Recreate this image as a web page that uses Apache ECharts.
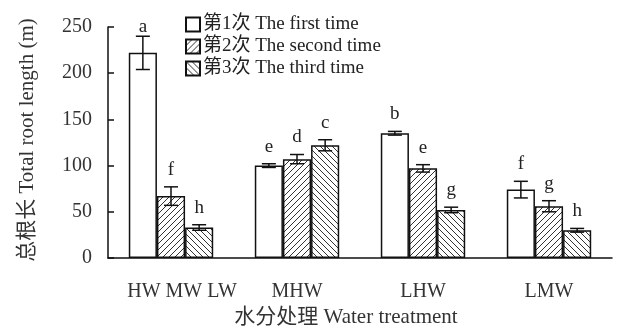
<!DOCTYPE html>
<html><head><meta charset="utf-8">
<script src="https://cdn.jsdelivr.net/npm/echarts@6/dist/echarts.min.js"></script>
<style>html,body{margin:0;padding:0;background:#fff}#c{width:619px;height:327px}</style>
</head><body><div id="c"></div>
<script>
const categories = ['HW MW LW', 'MHW', 'LHW', 'LMW'];
const seriesNames = ['第1次 The first time', '第2次 The second time', '第3次 The third time'];
const first = [222, 100, 135, 74];
const second = [67, 107, 97, 56];
const third = [33, 122, 52, 30];
const err1 = [18, 2, 2, 9];
const err2 = [10, 5, 4, 6];
const err3 = [3, 6, 3, 2];
const letters1 = ['a', 'e', 'b', 'f'];
const letters2 = ['f', 'd', 'e', 'g'];
const letters3 = ['h', 'c', 'g', 'h'];
const yTicks = [0, 50, 100, 150, 200, 250];

const FONT = '"Liberation Serif", "Times New Roman", "Noto Sans CJK SC", serif';
const GAP = 0.33;

function hatch(dir) {
  const s = 6;
  const c = document.createElement('canvas');
  c.width = s; c.height = s;
  const g = c.getContext('2d');
  g.fillStyle = '#fff'; g.fillRect(0, 0, s, s);
  g.strokeStyle = '#333'; g.lineWidth = 1;
  g.beginPath();
  if (dir > 0) {
    g.moveTo(0, s); g.lineTo(s, 0);
    g.moveTo(-1, 1); g.lineTo(1, -1);
    g.moveTo(s - 1, s + 1); g.lineTo(s + 1, s - 1);
  } else {
    g.moveTo(0, 0); g.lineTo(s, s);
    g.moveTo(s - 1, -1); g.lineTo(s + 1, 1);
    g.moveTo(-1, s - 1); g.lineTo(1, s + 1);
  }
  g.stroke();
  return c;
}

const fills = ['#ffffff', { image: hatch(1), repeat: 'repeat' }, { image: hatch(-1), repeat: 'repeat' }];
const values = [first, second, third];
const errs = [err1, err2, err3];
const letters = [letters1, letters2, letters3];

const barSeries = values.map((vals, k) => ({
  name: seriesNames[k],
  type: 'bar',
  data: vals,
  barGap: '0%',
  barCategoryGap: (GAP * 100) + '%',
  itemStyle: { color: fills[k], borderColor: '#111', borderWidth: 1.5 },
  z: 2
}));

const errSeries = values.map((vals, k) => ({
  type: 'custom',
  data: vals.map((v, i) => [i, v, errs[k][i]]),
  z: 5,
  renderItem: function (params, api) {
    const ci = api.value(0), v = api.value(1), e = api.value(2);
    const band = api.size([1, 0])[0];
    const bw = band * (1 - GAP) / 3;
    const c = api.coord([ci, v]);
    const x = c[0] + (k - 1) * bw;
    const top = api.coord([ci, v + e])[1];
    const bot = api.coord([ci, v - e])[1];
    const gridTop = api.coord([ci, 250])[1];
    const half = 7;
    const ls = { stroke: '#111', lineWidth: 1.5 };
    return {
      type: 'group',
      children: [
        { type: 'line', shape: { x1: x, y1: top, x2: x, y2: bot }, style: ls },
        { type: 'line', shape: { x1: x - half, y1: top, x2: x + half, y2: top }, style: ls },
        { type: 'line', shape: { x1: x - half, y1: bot, x2: x + half, y2: bot }, style: ls },
        { type: 'text', style: { text: letters[k][params.dataIndex], x: x, y: Math.max(top - 17, gridTop), align: 'center', verticalAlign: 'middle', font: '19px ' + FONT, fill: '#222' } }
      ]
    };
  }
}));

const chart = echarts.init(document.getElementById('c'));
chart.setOption({
  animation: false,
  backgroundColor: '#fff',
  grid: { left: 108, right: 7, top: 27, bottom: 69 },
  legend: {
    data: seriesNames,
    orient: 'vertical',
    left: 180, top: 10,
    icon: 'rect',
    itemWidth: 14, itemHeight: 14, itemGap: 3,
    textStyle: { fontFamily: FONT, fontSize: 19, color: '#222', padding: [0, 0, 0, -2] }
  },
  xAxis: {
    type: 'category',
    data: categories,
    axisLine: { lineStyle: { color: '#111', width: 1.5 } },
    axisTick: { inside: true, length: 5, lineStyle: { color: '#111', width: 1.5 } },
    axisLabel: {
      interval: 0, hideOverlap: false,
      margin: 24, fontFamily: FONT, fontSize: 20, color: '#333',
      formatter: (v, i) => i === 0 ? '{p|' + v + '}' : v,
      rich: { p: { padding: [0, 0, 0, 22], fontFamily: FONT, fontSize: 20, color: '#333' } }
    }
  },
  yAxis: {
    type: 'value',
    min: yTicks[0], max: yTicks[yTicks.length - 1], interval: yTicks[1] - yTicks[0],
    splitLine: { show: false },
    axisLine: { show: true, lineStyle: { color: '#111', width: 1.5 } },
    axisTick: { show: true, inside: true, length: 6, lineStyle: { color: '#111', width: 1.5 } },
    axisLabel: { margin: 16, fontFamily: FONT, fontSize: 20, color: '#333' }
  },
  graphic: [
    { type: 'text', x: 27, y: 140, rotation: Math.PI / 2, style: { text: '总根长 Total root length (m)', align: 'center', verticalAlign: 'middle', font: '21px ' + FONT, fill: '#333' } },
    { type: 'text', x: 346, y: 317, style: { text: '水分处理 Water treatment', align: 'center', verticalAlign: 'middle', font: '21px ' + FONT, fill: '#333' } }
  ],
  series: barSeries.concat(errSeries)
});
</script>
</body></html>
